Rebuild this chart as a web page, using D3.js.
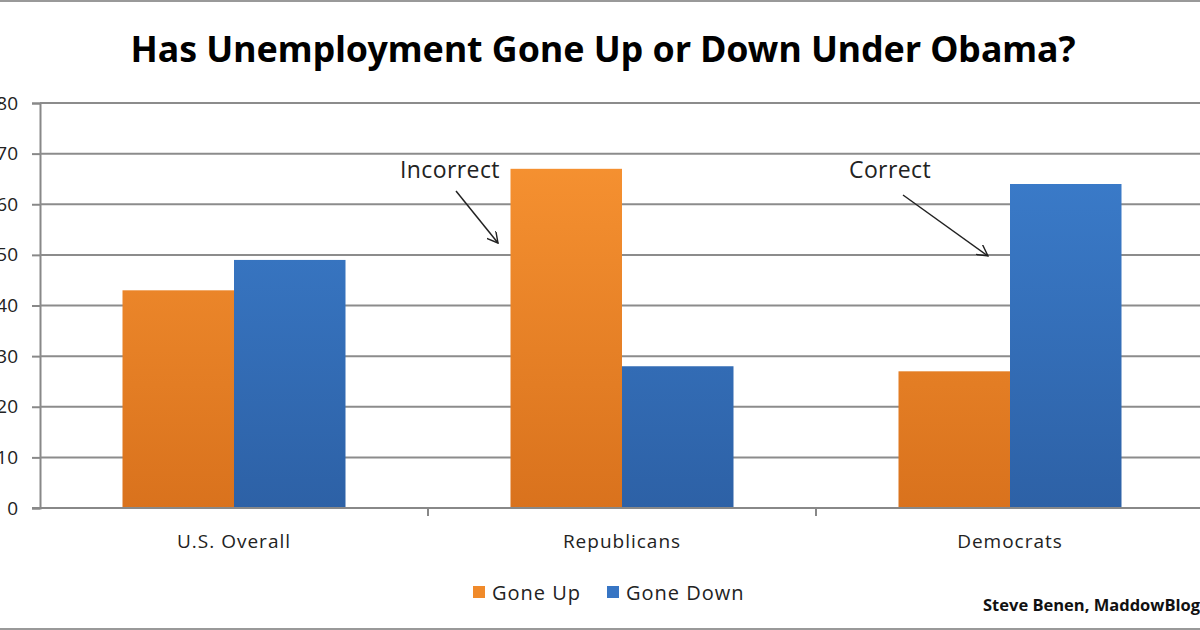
<!DOCTYPE html>
<html>
<head>
<meta charset="utf-8">
<script src="https://cdnjs.cloudflare.com/ajax/libs/d3/7.8.5/d3.min.js"></script>
<style>
  body { margin: 0; background: #fff; }
  svg { display: block; }
</style>
</head>
<body>
<svg id="chart" width="1200" height="630"></svg>
<script>
// data
const categories = ["U.S. Overall", "Republicans", "Democrats"];
const seriesNames = ["Gone Up", "Gone Down"];
const goneUp = [43, 67, 27];
const goneDown = [49, 28, 64];
const yTicks = [0, 10, 20, 30, 40, 50, 60, 70, 80];
const notes = [
  {text: "Incorrect", cat: "Republicans"},
  {text: "Correct", cat: "Democrats"}
];

const W = 1200, H = 630;
const margin = {top: 103, left: 40, bottom: 122};
const svg = d3.select("#chart");

const x = d3.scaleBand().domain(categories).range([margin.left, margin.left + 388 * 3]);
const y = d3.scaleLinear().domain([0, 80]).range([H - margin.bottom, margin.top]);
const barW = 111.5;

// gradients
const defs = svg.append("defs");
const grads = [["gUp", "#fa9634", "#d9721d"], ["gDown", "#3d80d0", "#2d61a6"]];
grads.forEach(g => {
  const lg = defs.append("linearGradient").attr("id", g[0])
    .attr("x1", 0).attr("x2", 0)
    .attr("gradientUnits", "userSpaceOnUse")
    .attr("y1", y(80)).attr("y2", y(0));
  lg.append("stop").attr("offset", "0%").attr("stop-color", g[1]);
  lg.append("stop").attr("offset", "100%").attr("stop-color", g[2]);
});
defs.append("marker").attr("id", "arrow")
  .attr("viewBox", "0 0 12 12").attr("refX", 11).attr("refY", 6)
  .attr("markerWidth", 12).attr("markerHeight", 12)
  .attr("markerUnits", "userSpaceOnUse").attr("orient", "auto")
  .append("path").attr("d", "M0,0 L11,6 L0,12")
  .attr("fill", "none").attr("stroke", "#222").attr("stroke-width", 1.4);

// borders
svg.append("line").attr("x1", 0).attr("x2", W).attr("y1", 1).attr("y2", 1)
  .attr("stroke", "#999").attr("stroke-width", 2);
svg.append("line").attr("x1", 0).attr("x2", W).attr("y1", 629).attr("y2", 629)
  .attr("stroke", "#999").attr("stroke-width", 2);

// title
svg.append("text").attr("x", 603).attr("y", 62)
  .attr("text-anchor", "middle")
  .attr("textLength", 945).attr("lengthAdjust", "spacingAndGlyphs")
  .style("font-family", "'Liberation Sans Narrow', 'Noto Sans', sans-serif")
  .style("font-weight", "bold").style("font-size", "36px")
  .text("Has Unemployment Gone Up or Down Under Obama?");

// grid + y axis (labels run off the left edge, as in the source image)
const yAxis = d3.axisLeft(y).tickValues(yTicks).tickSize(8).tickPadding(14).tickFormat(d3.format("d"));
const gy = svg.append("g").attr("transform", `translate(${margin.left},0)`).call(yAxis);
gy.select(".domain").attr("stroke", "#888").attr("stroke-width", 2);
gy.selectAll(".tick line").attr("stroke", "#888").attr("stroke-width", 2);
gy.selectAll(".tick text").attr("fill", "#222")
  .style("font-family", "'Open Sans', sans-serif").style("font-size", "19px");

svg.append("g").selectAll("line").data(yTicks.filter(d => d > 0)).join("line")
  .attr("x1", margin.left).attr("x2", W)
  .attr("y1", d => y(d)).attr("y2", d => y(d))
  .attr("stroke", "#8c8c8c").attr("stroke-width", 2);

// bars
const rows = categories.map((c, i) => ({cat: c, vals: [goneUp[i], goneDown[i]]}));
const groups = svg.append("g").selectAll("g").data(rows).join("g");
groups.selectAll("rect").data(d => d.vals.map((v, j) => ({cat: d.cat, v, j}))).join("rect")
  .attr("x", d => x(d.cat) + x.bandwidth() / 2 - barW + d.j * barW)
  .attr("width", barW)
  .attr("y", d => y(d.v))
  .attr("height", d => y(0) - y(d.v))
  .attr("fill", d => d.j === 0 ? "url(#gUp)" : "url(#gDown)");

// x axis
const xAxis = d3.axisBottom(x).tickSize(0).tickPadding(27);
const gx = svg.append("g").attr("transform", `translate(0,${y(0)})`).call(xAxis);
gx.select(".domain").attr("stroke", "#888").attr("stroke-width", 2).attr("d", `M${margin.left - 8},0H${W}`);
gx.selectAll(".tick text").attr("fill", "#222")
  .style("font-family", "'Open Sans', sans-serif").style("font-size", "19px")
  .style("letter-spacing", "1px");
svg.append("g").selectAll("line").data([1, 2]).join("line")
  .attr("x1", d => x(categories[d])).attr("x2", d => x(categories[d]))
  .attr("y1", y(0)).attr("y2", y(0) + 8)
  .attr("stroke", "#888").attr("stroke-width", 2);

// annotations
const noteG = svg.append("g").selectAll("g").data(notes).join("g");
noteG.append("text")
  .attr("x", d => d.cat === "Republicans" ? x(d.cat) - 28 : x(d.cat) + 33)
  .attr("y", 178)
  .attr("fill", "#222")
  .style("font-family", "'Open Sans', sans-serif").style("font-size", "23px")
  .style("letter-spacing", "0.4px")
  .text(d => d.text);
noteG.append("line")
  .attr("x1", d => d.cat === "Republicans" ? x(d.cat) + 28 : x(d.cat) + 87)
  .attr("y1", d => d.cat === "Republicans" ? 191 : 195)
  .attr("x2", d => d.cat === "Republicans" ? x(d.cat) + 70 : x(d.cat) + 172)
  .attr("y2", d => d.cat === "Republicans" ? 243 : 256)
  .attr("stroke", "#222").attr("stroke-width", 1.5)
  .attr("marker-end", "url(#arrow)");

// legend
const legend = svg.append("g").attr("transform", "translate(473,586)");
const lItems = legend.selectAll("g").data(seriesNames).join("g")
  .attr("transform", (d, i) => `translate(${i * 134},0)`);
lItems.append("rect").attr("width", 12).attr("height", 12)
  .attr("fill", (d, i) => i === 0 ? "#f08a2a" : "#3775c4");
lItems.append("text").attr("x", 19).attr("y", 14)
  .attr("fill", "#222")
  .style("font-family", "'Open Sans', sans-serif").style("font-size", "20px")
  .style("letter-spacing", "1px")
  .text(d => d);

// credit (runs off the right edge in the source)
svg.append("text").attr("x", 983).attr("y", 611)
  .attr("fill", "#111")
  .style("font-family", "'Open Sans', sans-serif").style("font-weight", "bold").style("font-size", "16.5px")
  .text("Steve Benen, MaddowBlog");
</script>
</body>
</html>
